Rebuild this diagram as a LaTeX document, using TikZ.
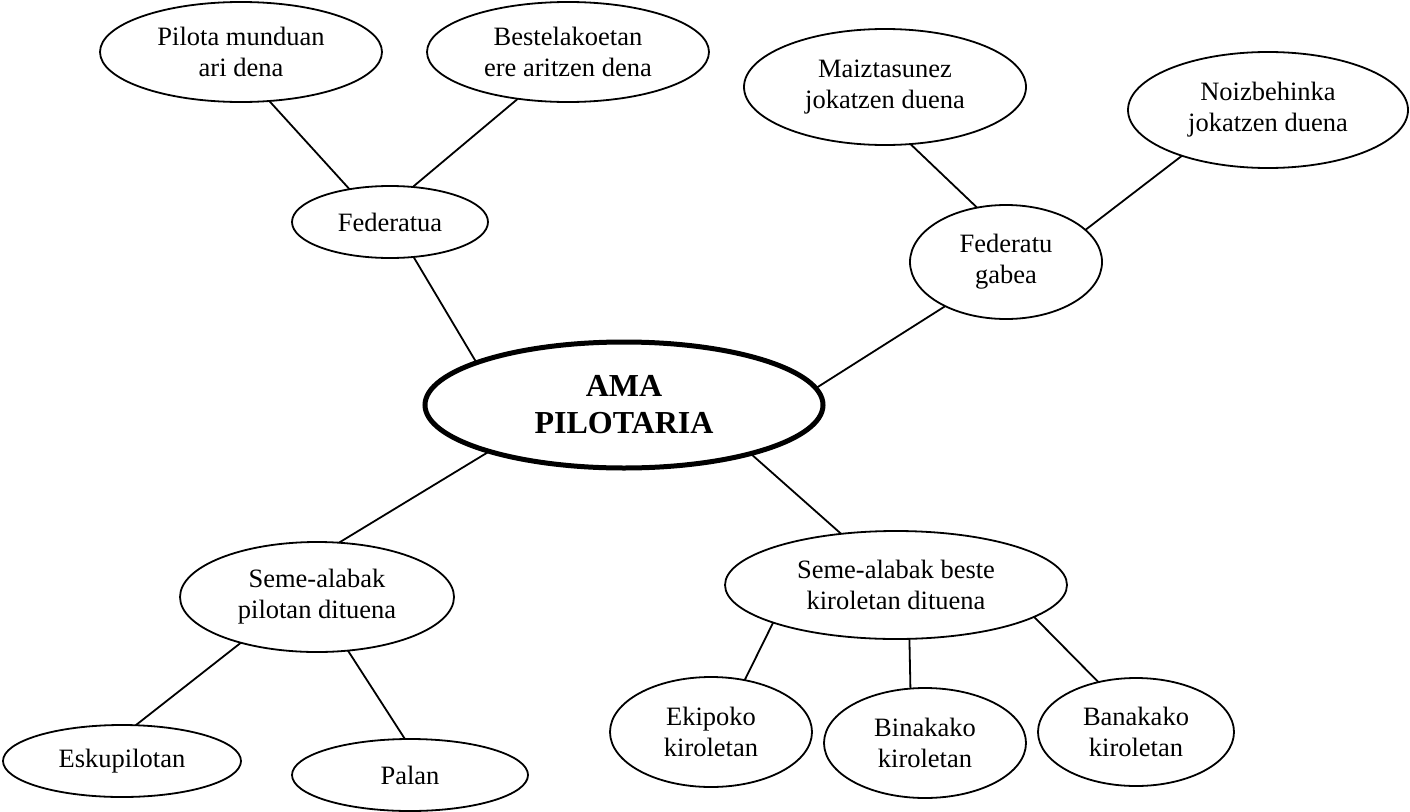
\documentclass[tikz,border=0pt]{standalone}
\usepackage{fontspec}
\setmainfont{Liberation Serif}
\usepackage{tikz}
\usetikzlibrary{shapes.geometric}

\begin{document}
\begin{tikzpicture}[x=1pt, y=-1pt,
    bubble/.style={
      ellipse, draw=black, line width=1.8pt, inner sep=0pt, outer sep=0pt,
      align=center, font=\fontsize{26.5}{31}\selectfont
    },
    core/.style={
      ellipse, draw=black, line width=5pt, inner sep=0pt, outer sep=0pt,
      align=center, font=\fontsize{32}{37}\selectfont\bfseries
    },
    link/.style={line width=1.8pt, draw=black}
  ]
    \useasboundingbox (0,0) rectangle (1410,811);
    % erdiko nodoa
    \node[core, minimum width=398pt, minimum height=126pt] (ama) at (624,405) {AMA\\PILOTARIA};
    % goiko adarrak
    \node[bubble, minimum width=196pt, minimum height=72pt] (fed) at (390,222) {Federatua};
    \node[bubble, minimum width=282pt, minimum height=100pt] (munduan) at (241,52) {Pilota munduan\\ari dena};
    \node[bubble, minimum width=282pt, minimum height=100pt] (bestela) at (568,52) {Bestelakoetan\\ere aritzen dena};
    \node[bubble, minimum width=192pt, minimum height=114pt] (fedgabe) at (1006,262) {Federatu\\gabea};
    \node[bubble, minimum width=282pt, minimum height=116pt] (maiz) at (885,87) {Maiztasunez\\jokatzen duena};
    \node[bubble, minimum width=280pt, minimum height=116pt] (noiz) at (1268,110) {Noizbehinka\\jokatzen duena};
    % beheko adarrak
    \node[bubble, minimum width=274pt, minimum height=110pt] (semepil) at (317,597) {Seme-alabak\\pilotan dituena};
    \node[bubble, minimum width=238pt, minimum height=72pt] (esku) at (122,761) {Eskupilotan};
    \node[bubble, minimum width=236pt, minimum height=72pt] (pala) at (410,775) {Palan};
    \node[bubble, minimum width=342pt, minimum height=108pt] (semekir) at (896,585) {Seme-alabak beste\\kiroletan dituena};
    \node[bubble, minimum width=202pt, minimum height=110pt] (ekipo) at (711,732) {Ekipoko\\kiroletan};
    \node[bubble, minimum width=202pt, minimum height=110pt] (bina) at (925,743) {Binakako\\kiroletan};
    \node[bubble, minimum width=196pt, minimum height=108pt] (bana) at (1136,732) {Banakako\\kiroletan};
    % loturak
    \draw[link] (munduan.300) -- (fed.141);
    \draw[link] (bestela.223) -- (fed.57);
    \draw[link] (fed.304) -- (ama.164);
    \draw[link] (ama.5) -- (fedgabe.216);
    \draw[link] (maiz.294) -- (fedgabe.118);
    \draw[link] (noiz.208) -- (fedgabe.22);
    \draw[link] (ama.199) -- (semepil.68);
    \draw[link] (semepil.211) -- (esku.69);
    \draw[link] (semepil.300) -- (pala.98);
    \draw[link] (ama.339) -- (semekir.137);
    \draw[link] (semekir.197) -- (ekipo.57);
    \draw[link] (semekir.284) -- (bina.105);
    \draw[link] (semekir.347) -- (bana.127);
\end{tikzpicture}
\end{document}
